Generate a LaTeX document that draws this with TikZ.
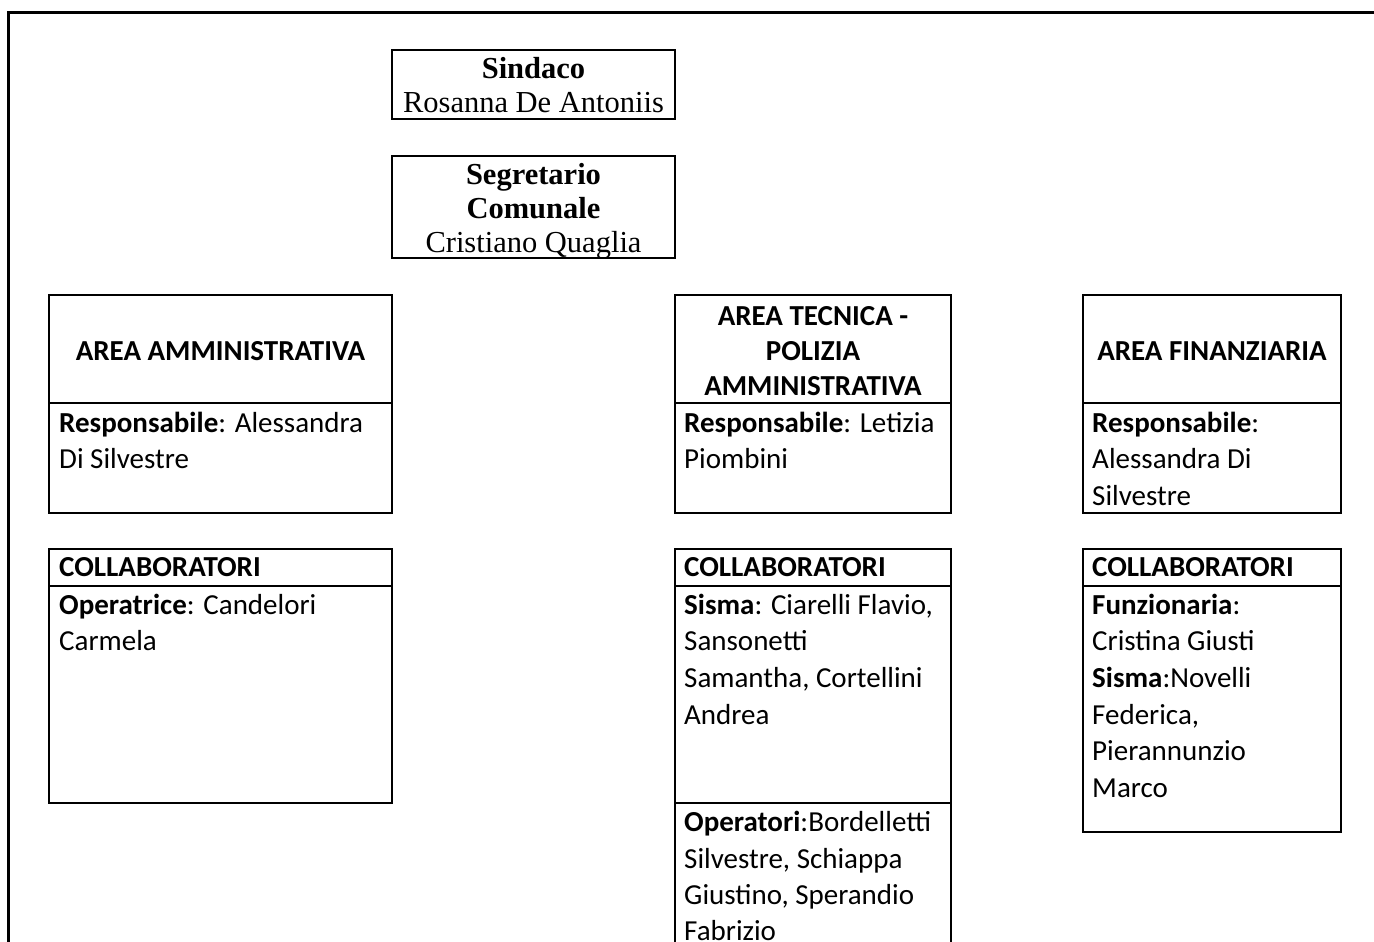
\documentclass[tikz,border=0pt]{standalone}
\usepackage{fontspec}
\setmainfont{Liberation Serif}
\newfontfamily\calibri{Carlito}
\usetikzlibrary{fit}
\tikzset{
  frameline/.style={line width=3pt},
  cell/.style={draw, line width=1.9pt, inner sep=0pt},
  serif/.style={font=\fontsize{30.5}{34}\selectfont, align=center, inner sep=0pt},
  calhead/.style={font=\calibri\bfseries\fontsize{29}{35}\selectfont, align=center, inner sep=0pt, yshift=-2pt},
  calcap/.style={font=\calibri\bfseries\fontsize{29}{36.7}\selectfont, anchor=west, inner sep=0pt},
  calbody/.style={font=\calibri\fontsize{29}{36.7}\selectfont, align=left, anchor=north west, inner sep=0pt},
}
\begin{document}
\begin{tikzpicture}[x=1pt,y=-1pt]
\useasboundingbox (0,0) rectangle (1374,942);
% outer frame (left and top only)
\coordinate (fbl) at (8.5,960);
\coordinate (ftl) at (8.5,12.5);
\coordinate (ftr) at (1390,12.5);
\draw[frameline] (fbl) -- (ftl) -- (ftr);

% Sindaco
\node[cell, fit={(392,50) (675,119)}] (sind) {};
\node[serif, yshift=-1pt] (sindt) at (sind.center) {\textbf{Sindaco}\\Rosanna De Antoniis};

% Segretario
\node[cell, fit={(392,156) (675,258)}] (segr) {};
\node[serif, yshift=-4pt] (segrt) at (segr.center) {\textbf{Segretario}\\\textbf{Comunale}\\Cristiano Quaglia};

% Area amministrativa
\node[cell, fit={(49,295) (392,403)}] (ammh) {};
\node[cell, fit={(49,403) (392,513)}] (ammb) {};
\node[calhead] (ammht) at (ammh.center) {AREA AMMINISTRATIVA};
\node[calbody] (ammbt) at (59,406.3) {\strut\textbf{Responsabile}: Alessandra\\Di Silvestre};

\node[cell, fit={(49,549) (392,586)}] (ammch) {};
\node[cell, fit={(49,586) (392,803)}] (ammcb) {};
\node[calcap] (ammcht) at (59,567.5) {COLLABORATORI};
\node[calbody] (ammcbt) at (59,588.3) {\strut\textbf{Operatrice}: Candelori\\Carmela};

% Area tecnica
\node[cell, fit={(675,295) (951,403)}] (tech) {};
\node[cell, fit={(675,403) (951,513)}] (tecb) {};
\node[calhead] (techt) at (tech.center) {AREA TECNICA -\\POLIZIA\\AMMINISTRATIVA};
\node[calbody] (tecbt) at (684,406.3) {\strut\textbf{Responsabile}: Letizia\\Piombini};

\node[cell, fit={(675,549) (951,586)}] (tecch) {};
\node[cell, fit={(675,586) (951,803)}] (teccb) {};
\node[cell, fit={(675,803) (951,970)}] (tecop) {};
\node[calcap] (tecchht) at (684,567.5) {COLLABORATORI};
\node[calbody] (teccbt) at (684,588.3) {\strut\textbf{Sisma}: Ciarelli Flavio,\\Sansonetti\\Samantha, Cortellini\\Andrea};
\node[calbody, font=\calibri\fontsize{29}{36.2}\selectfont] (tecopt) at (684,806.3) {\strut\textbf{Operatori}:Bordelletti\\Silvestre, Schiappa\\Giustino, Sperandio\\Fabrizio};

% Area finanziaria
\node[cell, fit={(1083,295) (1341,403)}] (finh) {};
\node[cell, fit={(1083,403) (1341,513)}] (finb) {};
\node[calhead] (finht) at (finh.center) {AREA FINANZIARIA};
\node[calbody] (finbt) at (1092,406.3) {\strut\textbf{Responsabile}:\\Alessandra Di\\Silvestre};

\node[cell, fit={(1083,549) (1341,586)}] (finch) {};
\node[cell, fit={(1083,586) (1341,832)}] (fincb) {};
\node[calcap] (finchht) at (1092,567.5) {COLLABORATORI};
\node[calbody] (fincbt) at (1092,588.3) {\strut\textbf{Funzionaria}:\\Cristina Giusti\\\textbf{Sisma}:Novelli\\Federica,\\Pierannunzio\\Marco};
\end{tikzpicture}
\end{document}
